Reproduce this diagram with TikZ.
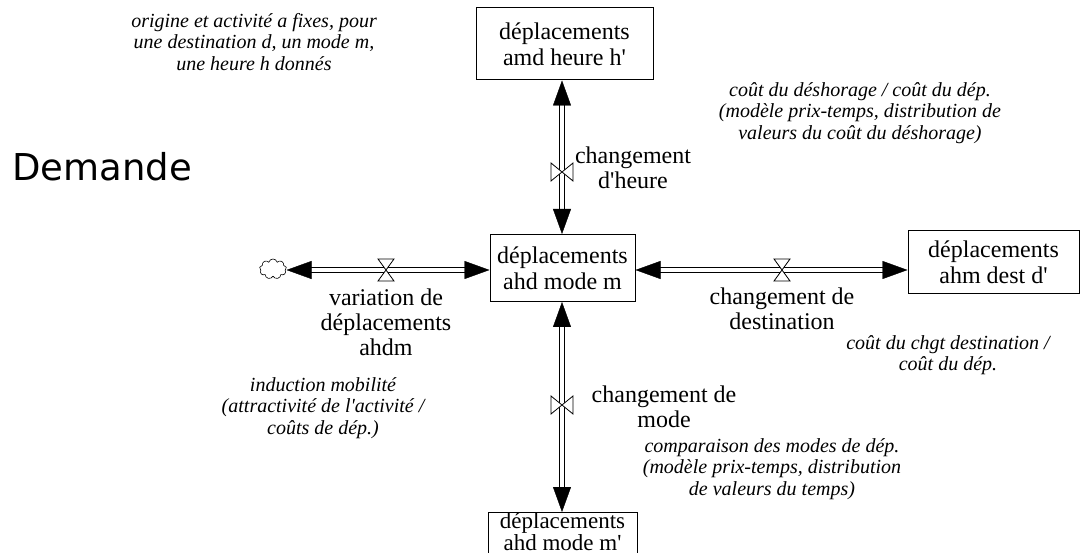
\documentclass[tikz,border=0pt]{standalone}
\usepackage{fontspec}
\setmainfont{Liberation Serif}
\newfontfamily\srf{Liberation Serif}
\newfontfamily\demfont{DejaVu Sans}
\usetikzlibrary{arrows.meta,shapes.symbols,calc}
\tikzset{
  stockbox/.style={draw, line width=1pt, fill=white, inner sep=0pt},
  stock/.style={stockbox, align=center, font=\srf\fontsize{24}{26}\selectfont},
  flowlabel/.style={align=center, inner sep=0pt, font=\srf\fontsize{24}{25}\selectfont},
  note/.style={align=center, inner sep=0pt, font=\srf\fontsize{20}{21.5}\selectfont\itshape},
  pipeout/.style={line width=6pt, shorten <=22pt, shorten >=22pt},
  pipein/.style={line width=3.2pt, white, shorten <=21pt, shorten >=21pt},
  tips/.style={white, line width=0.4pt,
    {Triangle[length=25pt,width=18pt,black]}-{Triangle[length=25pt,width=18pt,black]}},
  valvestyle/.style={draw=black, fill=white, line width=0.8pt},
}
\newcommand\valveH[1]{\path[valvestyle] (#1) ++(-8,-11) -- ++(16,0) -- ++(-16,22) -- ++(16,0) -- cycle;}
\newcommand\valveV[1]{\path[valvestyle] (#1) ++(-11,-9) -- ++(0,18) -- ++(22,-18) -- ++(0,18) -- cycle;}
\begin{document}
\begin{tikzpicture}[x=1pt,y=-1pt]
\useasboundingbox (0,0) rectangle (1085,553);

% stocks
\node[stock, minimum width=177, minimum height=72] (top) at (564.5,44) {déplacements\\amd heure h'};
\node[stock, minimum width=145, minimum height=67] (mid) at (562.5,268) {déplacements\\ahd mode m};
\node[stock, minimum width=171, minimum height=63] (right) at (993.5,262) {déplacements\\ahm dest d'};
\node[stockbox, minimum width=149, minimum height=70, anchor=north] (bot) at (562.5,512) {};
\node[anchor=base, align=center, inner sep=0pt, font=\srf\fontsize{23}{22}\selectfont] (bottxt) at (562.5,550) {déplacements\\ahd mode m'};
\node[cloud, draw, cloud puffs=9, aspect=1.35, minimum width=27pt, minimum height=20pt,
      inner sep=0pt, line width=0.6pt] (src) at (273,269) {};

% flows
\coordinate (lA) at (src.east |- 0,270);
\coordinate (lB) at (mid.west |- 0,270);
\coordinate (rA) at (mid.east |- 0,270);
\coordinate (rB) at (right.west |- 0,270);
\coordinate (tA) at (mid.north -| 562,0);
\coordinate (tB) at (top.south -| 562,0);
\coordinate (bA) at (mid.south -| 562,0);
\coordinate (bB) at (bot.north -| 562,0);

\foreach \a/\b in {lA/lB, rA/rB, tA/tB, bA/bB}{
  \draw[pipeout] (\a) -- (\b);
  \draw[pipein] (\a) -- (\b);
  \draw[tips] (\a) -- (\b);
}

% valves
\coordinate (vl) at (386,270);
\coordinate (vr) at (782,270);
\coordinate (vt) at (562,172);
\coordinate (vb) at (562,405);
\valveH{vl}
\valveH{vr}
\valveV{vt}
\valveV{vb}

% flow labels
\node[flowlabel] (lt) at (633,168) {changement\\d'heure};
\node[flowlabel] (ll) at (386,322) {variation de\\déplacements\\ahdm};
\node[flowlabel] (lr) at (782,309) {changement de\\destination};
\node[flowlabel] (lb) at (664,407) {changement de\\mode};

% title
\node[anchor=base west, inner sep=0pt, font=\demfont\fontsize{37}{40}\selectfont] (dem) at (12,181) {Demande};

% notes
\node[note] (n1) at (254,42) {origine et activité a fixes, pour\\une destination d, un mode m,\\une heure h donnés};
\node[note] (n2) at (860,113) {coût du déshorage / coût du dép.\\(modèle prix-temps, distribution de\\valeurs du coût du déshorage)};
\node[note] (n3) at (948,355) {coût du chgt destination /\\coût du dép.};
\node[note] (n4) at (323,408) {induction mobilité\\(attractivité de l'activité /\\coûts de dép.)};
\node[note] (n5) at (772,469) {comparaison des modes de dép.\\(modèle prix-temps, distribution\\de valeurs du temps)};
\end{tikzpicture}
\end{document}
